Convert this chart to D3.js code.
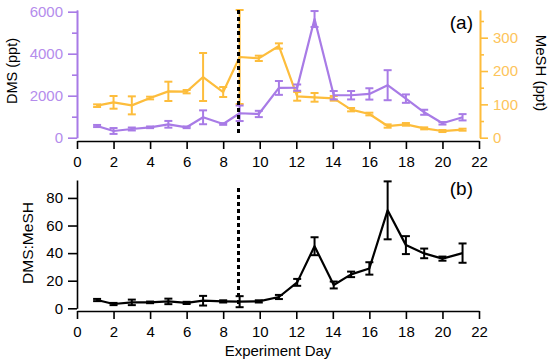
<!DOCTYPE html>
<html>
<head>
<meta charset="utf-8">
<script src="https://cdn.jsdelivr.net/npm/d3@7"></script>
<style>
  body { margin: 0; background: #fff; }
  svg { font-family: "Liberation Sans", Arial, sans-serif; }
</style>
</head>
<body>
<svg width="556" height="364"></svg>
<script>
// sampling day (fractional)
const days = [1.1, 2, 3, 4, 5, 6, 6.9, 8, 8.9, 9.95, 11.05, 12.05, 13, 14.05, 15, 16, 17, 18, 19, 20, 21.1]
// DMS (ppt), left axis of panel a
const dms = [557, 320, 415, 495, 638, 495, 972, 653, 1163, 1130, 2370, 2384, 5650, 2022, 2022, 2084, 2500, 1860, 1211, 686, 973]
const dmsErr = [50, 140, 70, 40, 160, 40, 330, 40, 370, 150, 330, 150, 380, 200, 200, 270, 715, 200, 120, 60, 150]
// MeSH (ppt), right axis of panel a
const mesh = [96, 106, 97, 119, 139, 138, 182, 137, 242, 238, 275, 124, 121, 118, 84, 71, 35, 40, 28, 20, 24]
const meshErr = [4, 19, 27, 4, 29, 5, 72, 15, 141, 8, 8, 13, 13, 7, 5, 4, 5, 4, 3, 3, 3]
// DMS:MeSH ratio, panel b
const ratio = [6.0, 3.1, 4.3, 4.3, 5.0, 3.9, 5.5, 5.0, 4.8, 5.0, 8.2, 18.8, 45, 16.9, 24.6, 28.9, 71, 45.8, 39.8, 36, 40]
const ratioErr = [0.8, 0.8, 2, 0.6, 2, 0.8, 3.5, 0.8, 4, 0.8, 1.5, 2.5, 6.5, 2.5, 2, 4.5, 21, 6.5, 3.5, 1.5, 7]
const xTicks = [0, 2, 4, 6, 8, 10, 12, 14, 16, 18, 20, 22]
const dmsTicks = [0, 2000, 4000, 6000]
const meshTicks = [0, 100, 200, 300]
const ratioTicks = [0, 20, 40, 60, 80]
const markerDay = 8.83

const purple = '#a87be6'
const purpleTxt = '#b48cec'
const orange = '#fdbd3c'
const orangeTxt = '#fdc45a'

let svg = d3.select('svg')

let x = d3.scaleLinear().domain([0, 22]).range([77, 479])
let yL = d3.scaleLinear().domain([0, 6080]).range([137.7, 10])
let yR = d3.scaleLinear().domain([0, 383]).range([137.7, 10])
let yB = d3.scaleLinear().domain([0, 93]).range([308.3, 180])

function styleAxis(g, color, txtColor) {
  g.selectAll('path, line').attr('stroke', color).attr('stroke-width', 1.6)
  g.selectAll('text').attr('fill', txtColor).attr('font-size', 15)
}

// x axes
svg.append('g').attr('transform', 'translate(0,141)')
  .call(d3.axisBottom(x).tickValues(xTicks).tickSize(8).tickSizeOuter(0).tickPadding(7))
  .call(g => styleAxis(g, '#000', '#000'))
svg.append('g').attr('transform', 'translate(0,311)')
  .call(d3.axisBottom(x).tickValues(xTicks).tickSize(8).tickSizeOuter(0).tickPadding(7))
  .call(g => styleAxis(g, '#000', '#000'))

// left axis panel a
svg.append('g').attr('transform', 'translate(77,0)')
  .call(d3.axisLeft(yL).tickValues([1000, 3000, 5000]).tickSize(5).tickSizeOuter(0).tickFormat(''))
  .call(g => styleAxis(g, purple, purpleTxt))
svg.append('g').attr('transform', 'translate(77,0)')
  .call(d3.axisLeft(yL).tickValues(dmsTicks).tickSize(9).tickSizeOuter(0).tickPadding(5).tickFormat(d3.format('d')))
  .call(g => styleAxis(g, purple, purpleTxt))

// right axis panel a
svg.append('g').attr('transform', 'translate(480,0)')
  .call(d3.axisRight(yR).tickValues([50, 150, 250, 350]).tickSize(4).tickSizeOuter(0).tickFormat(''))
  .call(g => styleAxis(g, orange, orangeTxt))
svg.append('g').attr('transform', 'translate(480,0)')
  .call(d3.axisRight(yR).tickValues(meshTicks).tickSize(8).tickSizeOuter(0).tickPadding(5))
  .call(g => styleAxis(g, orange, orangeTxt))

// left axis panel b
svg.append('g').attr('transform', 'translate(77,0)')
  .call(d3.axisLeft(yB).tickValues(ratioTicks).tickSize(9).tickSizeOuter(0).tickPadding(5))
  .call(g => styleAxis(g, '#000', '#000'))

function series(vals, errs, y, color) {
  let pts = days.map((d, i) => ({ d: d, v: vals[i], e: errs[i] }))
  let g = svg.append('g')
  g.append('path').datum(pts)
    .attr('fill', 'none').attr('stroke', color).attr('stroke-width', 2.2)
    .attr('stroke-linejoin', 'round')
    .attr('d', d3.line().x(p => x(p.d)).y(p => y(p.v)))
  let eb = g.selectAll('g.eb').data(pts).enter().append('g')
  eb.append('line')
    .attr('x1', p => x(p.d)).attr('x2', p => x(p.d))
    .attr('y1', p => y(p.v - p.e)).attr('y2', p => y(p.v + p.e))
    .attr('stroke', color).attr('stroke-width', 2)
  eb.selectAll('line.cap').data(p => [p.v - p.e, p.v + p.e].map(v => ({ d: p.d, v: v })))
    .enter().append('line').attr('class', 'cap')
    .attr('x1', c => x(c.d) - 4).attr('x2', c => x(c.d) + 4)
    .attr('y1', c => y(c.v)).attr('y2', c => y(c.v))
    .attr('stroke', color).attr('stroke-width', 2)
}

series(mesh, meshErr, yR, orange)
series(dms, dmsErr, yL, purple)
series(ratio, ratioErr, yB, '#000')

// dashed marker line, on top of the series
let mx = Math.round(x(markerDay)) + 0.5
svg.append('line')
  .attr('x1', mx).attr('x2', mx)
  .attr('y1', 10).attr('y2', 135)
  .attr('stroke', '#000').attr('stroke-width', 3).attr('stroke-dasharray', '4,3')
svg.append('line')
  .attr('x1', mx).attr('x2', mx)
  .attr('y1', 188).attr('y2', 307)
  .attr('stroke', '#000').attr('stroke-width', 3).attr('stroke-dasharray', '4,3')

// labels
svg.append('text').attr('transform', 'translate(16.5,71) rotate(-90)')
  .attr('text-anchor', 'middle').attr('font-size', 14.5).text('DMS (ppt)')
svg.append('text').attr('transform', 'translate(536,73) rotate(90)')
  .attr('text-anchor', 'middle').attr('font-size', 15).text('MeSH (ppt)')
svg.append('text').attr('transform', 'translate(33,243) rotate(-90)')
  .attr('text-anchor', 'middle').attr('font-size', 15.5).text('DMS:MeSH')
svg.append('text').attr('x', x(11)).attr('y', 356)
  .attr('text-anchor', 'middle').attr('font-size', 15).text('Experiment Day')
svg.append('text').attr('x', 473).attr('y', 29)
  .attr('text-anchor', 'end').attr('font-size', 19).text('(a)')
svg.append('text').attr('x', 473).attr('y', 195)
  .attr('text-anchor', 'end').attr('font-size', 19).text('(b)')
</script>
</body>
</html>
